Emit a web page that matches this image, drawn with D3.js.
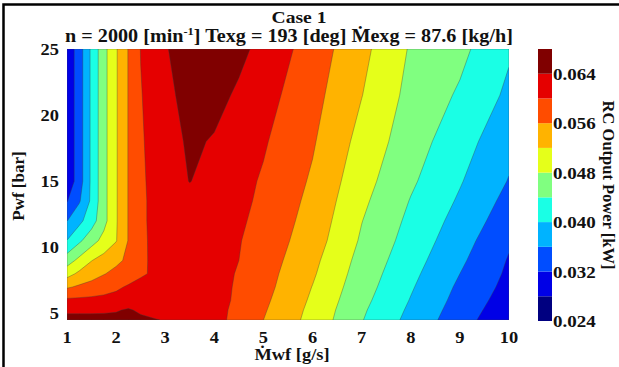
<!DOCTYPE html>
<html>
<head>
<meta charset="utf-8">
<script src="https://cdn.jsdelivr.net/npm/d3@7/dist/d3.min.js"></script>
<style>
  body { margin: 0; background: #fff; }
  svg text { font-family: "Liberation Serif", "Times New Roman", serif; font-weight: bold; fill: #111; }
</style>
</head>
<body>
<svg id="chart" width="619" height="367"></svg>
<script>
// Mwf [g/s] grid columns
const mwf = [1, 1.25, 1.5, 1.75, 2, 2.25, 2.5, 3, 3.5, 4, 4.5, 5, 6, 7, 8, 9, 10];
// Pwf [bar] grid rows (bottom to top)
const pwf = [4.5, 5.25, 6, 7, 8, 9, 10.5, 12, 13.5, 15, 18, 21.5, 25];
// RC output power [kW], one row per pwf value
const power = [
  [0.0652, 0.0652, 0.0652, 0.0652, 0.0654, 0.0656, 0.0650, 0.0637, 0.0625, 0.0612, 0.0588, 0.0560, 0.0507, 0.0442, 0.0388, 0.0337, 0.0288],
  [0.0633, 0.0633, 0.0633, 0.0634, 0.0636, 0.0645, 0.0632, 0.0625, 0.0618, 0.0610, 0.0592, 0.0564, 0.0510, 0.0446, 0.0393, 0.0342, 0.0295],
  [0.0607, 0.0608, 0.0609, 0.0610, 0.0612, 0.0614, 0.0614, 0.0613, 0.0612, 0.0610, 0.0595, 0.0568, 0.0514, 0.0451, 0.0398, 0.0347, 0.0301],
  [0.0555, 0.0566, 0.0575, 0.0585, 0.0594, 0.0604, 0.0607, 0.0608, 0.0610, 0.0608, 0.0597, 0.0573, 0.0519, 0.0457, 0.0404, 0.0353, 0.0308],
  [0.0505, 0.0528, 0.0543, 0.0558, 0.0570, 0.0582, 0.0597, 0.0608, 0.0612, 0.0609, 0.0598, 0.0576, 0.0525, 0.0462, 0.0410, 0.0360, 0.0313],
  [0.0461, 0.0491, 0.0519, 0.0535, 0.0552, 0.0567, 0.0596, 0.0610, 0.0615, 0.0610, 0.0600, 0.0580, 0.0530, 0.0467, 0.0416, 0.0367, 0.0317],
  [0.0401, 0.0433, 0.0464, 0.0493, 0.0518, 0.0562, 0.0595, 0.0613, 0.0618, 0.0612, 0.0602, 0.0584, 0.0539, 0.0475, 0.0424, 0.0377, 0.0325],
  [0.0359, 0.0390, 0.0423, 0.0467, 0.0516, 0.0562, 0.0595, 0.0615, 0.0622, 0.0616, 0.0606, 0.0588, 0.0545, 0.0481, 0.0431, 0.0386, 0.0338],
  [0.0318, 0.0356, 0.0408, 0.0467, 0.0516, 0.0562, 0.0594, 0.0618, 0.0628, 0.0622, 0.0610, 0.0592, 0.0550, 0.0488, 0.0438, 0.0395, 0.0348],
  [0.0290, 0.0341, 0.0408, 0.0467, 0.0516, 0.0562, 0.0594, 0.0622, 0.0641, 0.0626, 0.0611, 0.0596, 0.0555, 0.0495, 0.0446, 0.0403, 0.0358],
  [0.0290, 0.0341, 0.0408, 0.0467, 0.0516, 0.0562, 0.0596, 0.0623, 0.0646, 0.0637, 0.0620, 0.0604, 0.0564, 0.0507, 0.0458, 0.0417, 0.0372],
  [0.0290, 0.0341, 0.0408, 0.0467, 0.0516, 0.0562, 0.0598, 0.0629, 0.0655, 0.0652, 0.0634, 0.0615, 0.0573, 0.0521, 0.0468, 0.0435, 0.0392],
  [0.0290, 0.0341, 0.0408, 0.0467, 0.0516, 0.0562, 0.0601, 0.0637, 0.0660, 0.0665, 0.0650, 0.0628, 0.0582, 0.0531, 0.0476, 0.0450, 0.0405]
];
const levels = [0.024, 0.028, 0.032, 0.036, 0.040, 0.044, 0.048, 0.052, 0.056, 0.060, 0.064, 0.068];
const cbarTicks = [0.024, 0.032, 0.040, 0.048, 0.056, 0.064];
const xTicks = [1, 2, 3, 4, 5, 6, 7, 8, 9, 10];
const yTicks = [5, 10, 15, 20, 25];

// matlab-style jet
function jet(t) {
  const c = v => Math.round(255 * Math.max(0, Math.min(1, v)));
  return `rgb(${c(1.5 - Math.abs(4 * t - 3))},${c(1.5 - Math.abs(4 * t - 2))},${c(1.5 - Math.abs(4 * t - 1))})`;
}
const nBands = levels.length - 1;
const bandColor = i => jet(i / (nBands - 1));

const svg = d3.select('#chart');
const plot = { left: 67, right: 509, top: 49, bottom: 320 };
const stretch = 1.15; // the source figure is a bit wider than it is tall

const x = d3.scaleLinear().domain([1, 10]).range([plot.left, plot.right]);
const y = d3.scaleLinear().domain([4.5, 25]).range([plot.bottom, plot.top]);

// only the top and left edges of the frame show in the picture
svg.append('rect')
  .attr('x', 3.5).attr('y', 4.5).attr('width', 700).attr('height', 500)
  .attr('fill', '#fff').attr('stroke', '#000').attr('stroke-width', 2.5);

svg.append('clipPath').attr('id', 'plot-clip')
  .append('rect')
  .attr('x', plot.left).attr('y', plot.top)
  .attr('width', plot.right - plot.left).attr('height', plot.bottom - plot.top);

// grid index -> data value (piecewise, grid is not uniform)
const ix = d3.scaleLinear().domain(d3.range(mwf.length)).range(mwf).clamp(true);
const iy = d3.scaleLinear().domain(d3.range(pwf.length)).range(pwf).clamp(true);

const contours = d3.contours()
  .size([mwf.length, pwf.length])
  .thresholds(levels.slice(0, -1))(power.flat());

const path = d3.geoPath(d3.geoTransform({
  point(px, py) { this.stream.point(x(ix(px - 0.5)), y(iy(py - 0.5))); }
}));

svg.append('g')
  .attr('clip-path', 'url(#plot-clip)')
  .selectAll('path')
  .data(contours)
  .join('path')
  .attr('d', path)
  .attr('fill', (d, i) => bandColor(i))
  .attr('stroke', '#3a3a3a')
  .attr('stroke-opacity', 0.6)
  .attr('stroke-width', 0.6);

// text helper, widened a little like the source
function label(g, tx, ty, str, size, anchor, rot, sx) {
  const tf = `translate(${tx},${ty})` + (rot ? ` rotate(${rot})` : ` scale(${sx || stretch},1)`);
  return g.append('text')
    .attr('transform', tf)
    .attr('text-anchor', anchor || 'start')
    .attr('font-size', size)
    .text(str);
}

const gx = svg.append('g');
xTicks.forEach(d => label(gx, x(d), 343, d, 16, 'middle'));

const gy = svg.append('g');
yTicks.forEach(d => label(gy, 59, y(d) + 6, d, 16, 'end'));

// colorbar
const cb = { x: 538, w: 14 };
const c = d3.scaleLinear().domain([0.024, 0.068]).range([321, 49]);
svg.append('g').selectAll('rect')
  .data(d3.range(nBands)).join('rect')
  .attr('x', cb.x).attr('width', cb.w)
  .attr('y', i => c(levels[i + 1]))
  .attr('height', i => c(levels[i]) - c(levels[i + 1]))
  .attr('fill', i => bandColor(i));

const gc = svg.append('g');
cbarTicks.forEach(d => label(gc, 553, c(d) + 6, d.toFixed(3), 16.5));

label(svg, 603, 185, 'RC Output Power [kW]', 16.5, 'middle', 90);

// titles
label(svg, 299, 23, 'Case 1', 17.5, 'middle', 0, 1.12);

const t2 = label(svg, 289, 42, '', 18, 'middle', 0, 1.12);
t2.append('tspan').text('n = 2000 [min');
t2.append('tspan').attr('dy', -7).attr('font-size', 11).text('-1');
t2.append('tspan').attr('dy', 7).text('] Texg = 193 [deg] \u1E40exg = 87.6 [kg/h]');

label(svg, 292, 360, '\u1E40wf [g/s]', 16, 'middle');
label(svg, 24, 186, 'Pwf [bar]', 17, 'middle', -90);
</script>
</body>
</html>
